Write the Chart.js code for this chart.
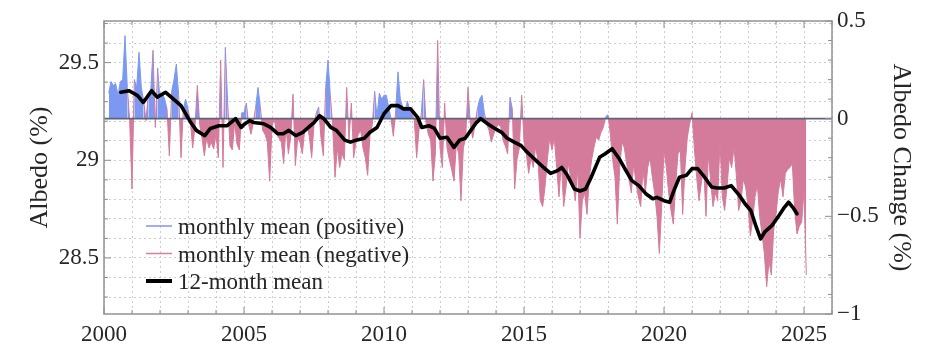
<!DOCTYPE html>
<html><head><meta charset="utf-8">
<script src="https://cdn.jsdelivr.net/npm/chart.js@4/dist/chart.umd.min.js"></script>
<style>html,body{margin:0;padding:0;background:#fff;}#wrap{width:925px;height:362px;position:relative;}</style>
</head><body><div id="wrap"><canvas id="c" width="925" height="362"></canvas></div>
<script>
// ---------- data ----------
const baselineAlbedo = 29.213;          // albedo (%) corresponding to 0 change
const firstYear = 2000, firstMonth = 3; // monthly series starts March 2000
const monthlyChange = [
  0.13, 0.19, 0.17, 0.18, 0.12, 0.19, 0.2, 0.425, 0.16, -0.01,
  -0.36, 0.2, 0.16, 0.34, 0.16, 0.09, -0.01, 0.13, 0.13, 0.35, -0.045, 0.26,
  0.09, 0.13, 0.1, 0.05, -0.19, 0.14, 0.2, 0.28, 0.12, -0.2, 0.05, 0.1,
  0.05, -0.01, -0.15, -0.04, 0.17, -0.03, -0.1, -0.19, -0.1, -0.15, -0.12, -0.155,
  -0.08, -0.2, 0.3, -0.25, 0.365, 0.08, -0.14, -0.16, -0.02, -0.13, -0.16, 0.03,
  0.03, 0.08, -0.03, -0.08, -0.02, 0.06, 0.16, 0.06, -0.06, -0.08, -0.12, -0.32,
  -0.04, 0.0, -0.08, -0.1, -0.12, -0.23, -0.04, -0.18, -0.1, 0.125, -0.24, -0.1,
  -0.12, -0.18, -0.06, -0.04, -0.09, -0.2, -0.03, 0.03, 0.06, -0.1, -0.19, 0.16,
  0.30, 0.12, -0.04, -0.3, -0.15, -0.25, -0.18, -0.21, 0.16, -0.11, 0.08, -0.2,
  -0.12, -0.08, -0.06, -0.15, -0.2, -0.29, -0.08, -0.03, 0.14, 0.01, 0.13, 0.1,
  0.12, 0.12, 0.06, 0.0, -0.09, 0.04, 0.24, 0.1, 0.06, 0.04, 0.09, 0.05,
  0.03, -0.01, -0.2, -0.06, 0.03, 0.2, -0.02, -0.08, -0.11, -0.32, -0.18, 0.4,
  -0.15, -0.25, 0.08, -0.15, -0.21, -0.26, -0.32, -0.13, -0.18, -0.42, -0.15, -0.1,
  0.16, -0.03, -0.1, -0.03, 0.05, 0.1, 0.12, 0.03, -0.03, -0.06, -0.12, -0.08,
  -0.05, -0.03, -0.04, -0.11, -0.14, -0.18, 0.11, 0.05, -0.36, -0.21, -0.15, 0.12,
  -0.12, -0.18, -0.28, -0.2, -0.25, -0.14, -0.22, -0.42, -0.45, -0.35, -0.21, -0.1,
  -0.16, -0.1, -0.25, -0.4, -0.22, -0.45, -0.35, -0.23, -0.3, -0.33, -0.42, -0.25,
  -0.61, -0.42, -0.38, -0.49, -0.3, -0.21, -0.145, -0.095, -0.11, -0.07, -0.045, 0.01,
  0.02, -0.08, -0.21, -0.3, -0.54, -0.25, -0.12, -0.15, -0.23, -0.31, -0.38, -0.23,
  -0.33, -0.4, -0.45, -0.26, -0.38, -0.25, -0.2, -0.3, -0.38, -0.5, -0.69, -0.45,
  -0.16, -0.25, -0.38, -0.47, -0.54, -0.335, -0.18, -0.16, -0.49, -0.25, -0.095, -0.025,
  0.03, -0.15, -0.3, -0.42, -0.33, -0.25, -0.5, -0.18, -0.32, -0.45, -0.38, -0.42,
  -0.11, -0.4, -0.47, -0.35, -0.2, -0.25, -0.145, -0.29, -0.47, -0.42, -0.31, -0.35,
  -0.45, -0.6, -0.52, -0.4, -0.34, -0.5, -0.59, -0.69, -0.86, -0.73, -0.8, -0.57,
  -0.49, -0.37, -0.31, -0.4, -0.28, -0.26, -0.25, -0.23, -0.47, -0.59, -0.55, -0.53,
  -0.37, -0.8
];
const meanYear = [
  2000.6, 2000.9, 2001.2, 2001.4, 2001.7, 2001.9, 2002.2, 2002.4, 2002.75, 2002.9,
  2003.1, 2003.3, 2003.6, 2003.8, 2004.1, 2004.4, 2004.7, 2004.9, 2005.0, 2005.2,
  2005.35, 2005.7, 2005.95, 2006.2, 2006.4, 2006.6, 2006.85, 2007.1, 2007.3, 2007.5,
  2007.7, 2007.85, 2008.1, 2008.3, 2008.6, 2008.8, 2009.0, 2009.3, 2009.5, 2009.75,
  2010.0, 2010.25, 2010.5, 2010.7, 2010.95, 2011.2, 2011.35, 2011.6, 2011.8, 2012.0,
  2012.25, 2012.5, 2012.7, 2012.9, 2013.1, 2013.3, 2013.45, 2013.7, 2013.9, 2014.2,
  2014.4, 2014.65, 2014.9, 2015.1, 2015.25, 2015.5, 2015.7, 2015.95, 2016.2, 2016.35,
  2016.55, 2016.8, 2017.0, 2017.2, 2017.4, 2017.7, 2017.9, 2018.15, 2018.4, 2018.6,
  2018.85, 2019.1, 2019.35, 2019.6, 2019.75, 2020.0, 2020.2, 2020.35, 2020.55, 2020.8,
  2021.0, 2021.2, 2021.4, 2021.7, 2021.9, 2022.15, 2022.4, 2022.7, 2022.9, 2023.1,
  2023.3, 2023.45, 2023.6, 2023.85, 2024.1, 2024.3, 2024.45, 2024.6, 2024.75
];
const meanChange = [
  0.135, 0.143, 0.118, 0.083, 0.143, 0.11, 0.135, 0.11, 0.067, 0.03,
  -0.02, -0.06, -0.087, -0.05, -0.036, -0.036, 0.0, -0.045, -0.03, -0.01,
  -0.02, -0.026, -0.045, -0.077, -0.077, -0.06, -0.087, -0.07, -0.045, -0.02,
  0.015, 0.0, -0.045, -0.06, -0.11, -0.12, -0.11, -0.10, -0.07, -0.045,
  0.025, 0.067, 0.067, 0.05, 0.05, 0.007, -0.045, -0.036, -0.05, -0.10,
  -0.095, -0.147, -0.11, -0.10, -0.06, -0.02, 0.0, -0.026, -0.045, -0.07,
  -0.10, -0.12, -0.138, -0.17, -0.19, -0.224, -0.25, -0.28, -0.266, -0.25,
  -0.29, -0.36, -0.37, -0.36, -0.30, -0.198, -0.18, -0.154, -0.205, -0.256,
  -0.317, -0.343, -0.384, -0.41, -0.403, -0.42, -0.428, -0.37, -0.30, -0.29,
  -0.256, -0.256, -0.29, -0.35, -0.355, -0.355, -0.343, -0.394, -0.437, -0.47,
  -0.557, -0.615, -0.58, -0.548, -0.497, -0.454, -0.428, -0.454, -0.487
];
const xTicks = [2000,2001,2002,2003,2004,2005,2006,2007,2008,2009,2010,2011,2012,2013,
  2014,2015,2016,2017,2018,2019,2020,2021,2022,2023,2024,2025,2026];
const xLabels = [2000, 2005, 2010, 2015, 2020, 2025];
const leftTicks = [28.3, 28.4, 28.5, 28.6, 28.7, 28.8, 28.9, 29.0, 29.1, 29.2, 29.3, 29.4, 29.5, 29.6, 29.7];
const leftLabels = [28.5, 29, 29.5];
const rightTicks = [-1, -0.9, -0.8, -0.7, -0.6, -0.5, -0.4, -0.3, -0.2, -0.1, 0, 0.1, 0.2, 0.3, 0.4, 0.5];
const rightLabels = [-1, -0.5, 0, 0.5];
const legendLabels = ['monthly mean (positive)', 'monthly mean (negative)', '12-month mean'];

// ---------- styles ----------
const BLUE = 'rgb(124,152,240)';
const PINK = 'rgb(212,122,155)';
const BLUE_LEG = 'rgb(132,146,240)';
const PINK_LEG = 'rgb(214,128,160)';
const TXT = '#262626';
const GRID = '#cdcdcd';
const FONT = "'Liberation Serif', 'DejaVu Serif', serif";

const near = (arr, v) => arr.some(a => Math.abs(a - v) < 1e-6);
const fmt = v => (v < 0 ? '\u2212' : '') + String(Math.abs(v));

const monthlyPoints = monthlyChange.map((v, i) => ({ x: firstYear + (firstMonth - 1 + i) / 12, y: v }));
const meanPoints = meanYear.map((x, i) => ({ x: x, y: meanChange[i] }));
const zeroPoints = [{ x: xTicks[0], y: 0 }, { x: xTicks[xTicks.length - 1], y: 0 }];

const decor = {
  id: 'decor',
  afterDraw(chart) {
    const { ctx, chartArea: a, scales } = chart;
    ctx.save();
    const line = (x1, y1, x2, y2) => { ctx.beginPath(); ctx.moveTo(x1, y1); ctx.lineTo(x2, y2); ctx.stroke(); };
    ctx.strokeStyle = '#8e8e8e';
    ctx.lineWidth = 1;
    xTicks.forEach(v => {
      const px = scales.x.getPixelForValue(v);
      const len = near(xLabels, v) ? 7 : 4;
      line(px, a.bottom, px, a.bottom - len);
      line(px, a.top, px, a.top + len);
    });
    leftTicks.forEach(v => {
      const py = scales.y.getPixelForValue(v);
      const len = near(leftLabels, v) ? 7 : 4;
      line(a.left, py, a.left + len, py);
    });
    rightTicks.forEach(v => {
      const py = scales.y2.getPixelForValue(v);
      const len = near(rightLabels, v) ? 7 : 4;
      line(a.right, py, a.right - len, py);
    });
    ctx.lineWidth = 1.5;
    ctx.strokeStyle = '#929292';
    ctx.strokeRect(a.left, a.top, a.right - a.left, a.bottom - a.top);

    // legend
    const cols = [BLUE_LEG, PINK_LEG, '#000'];
    const widths = [1.5, 1.5, 4];
    const lx = a.left + 42, ly = a.top + 205, step = 27.5;
    ctx.font = "23px " + FONT;
    ctx.textBaseline = 'middle';
    ctx.textAlign = 'left';
    legendLabels.forEach((t, i) => {
      const y = ly + i * step;
      ctx.strokeStyle = cols[i];
      ctx.lineWidth = widths[i];
      line(lx, y, lx + 26, y);
      ctx.fillStyle = TXT;
      ctx.fillText(t, lx + 32, y + 2);
    });
    ctx.restore();
  }
};

new Chart(document.getElementById('c'), {
  type: 'line',
  data: {
    datasets: [
      { label: 'mean', data: meanPoints, yAxisID: 'y2', borderColor: '#000', borderWidth: 3.6,
        pointRadius: 0, fill: false, order: 0, borderJoinStyle: 'round', borderCapStyle: 'round' },
      { label: 'zero', data: zeroPoints, yAxisID: 'y2', borderColor: '#5d6478', borderWidth: 1.6,
        pointRadius: 0, fill: false, order: 1 },
      { label: 'monthly', data: monthlyPoints, yAxisID: 'y2', borderWidth: 1, pointRadius: 0,
        borderColor: PINK,
        segment: { borderColor: c => (c.p0.parsed.y >= 0 && c.p1.parsed.y >= 0) ? BLUE : PINK },
        fill: { target: { value: 0 }, above: BLUE, below: PINK }, order: 2 }
    ]
  },
  options: {
    responsive: false,
    animation: false,
    devicePixelRatio: 1,
    layout: { padding: { top: 21, left: 0, right: 0, bottom: 0 } },
    plugins: { legend: { display: false }, tooltip: { enabled: false } },
    scales: {
      x: {
        type: 'linear', position: 'bottom', min: 2000, max: 2026,
        afterBuildTicks: s => { s.ticks = xTicks.map(v => ({ value: v })); },
        afterFit: s => { s.height = 48; },
        grid: { color: GRID, lineWidth: 1, drawTicks: false },
        border: { display: false, dash: [2, 3] },
        ticks: { autoSkip: false, maxRotation: 0, padding: 7, color: TXT,
          font: { family: FONT, size: 23 },
          callback: v => near(xLabels, v) ? String(v) : '' }
      },
      y: {
        type: 'linear', position: 'left',
        min: baselineAlbedo - 1, max: baselineAlbedo + 0.5,
        afterBuildTicks: s => { s.ticks = leftTicks.map(v => ({ value: v })); },
        afterFit: s => { s.width = 104; },
        grid: { color: GRID, lineWidth: 1, drawTicks: false },
        border: { display: false, dash: [2, 3] },
        ticks: { autoSkip: false, padding: 5, color: TXT, font: { family: FONT, size: 23 },
          callback: v => near(leftLabels, v) ? String(v) : '' },
        title: { display: true, text: 'Albedo (%)', color: TXT,
          font: { family: FONT, size: 26 }, padding: { top: 25, bottom: 0 } }
      },
      y2: {
        type: 'linear', position: 'right', min: -1, max: 0.5,
        afterBuildTicks: s => { s.ticks = rightTicks.map(v => ({ value: v })); },
        afterFit: s => { s.width = 93; },
        grid: { drawOnChartArea: false, drawTicks: false },
        border: { display: false },
        ticks: { autoSkip: false, padding: 5, color: TXT, font: { family: FONT, size: 23 },
          callback: v => near(rightLabels, v) ? fmt(v) : '' },
        title: { display: true, text: 'Albedo Change (%)', color: TXT,
          font: { family: FONT, size: 26 }, padding: { top: 9, bottom: 0 } }
      }
    }
  },
  plugins: [decor]
});
</script>
</body></html>
